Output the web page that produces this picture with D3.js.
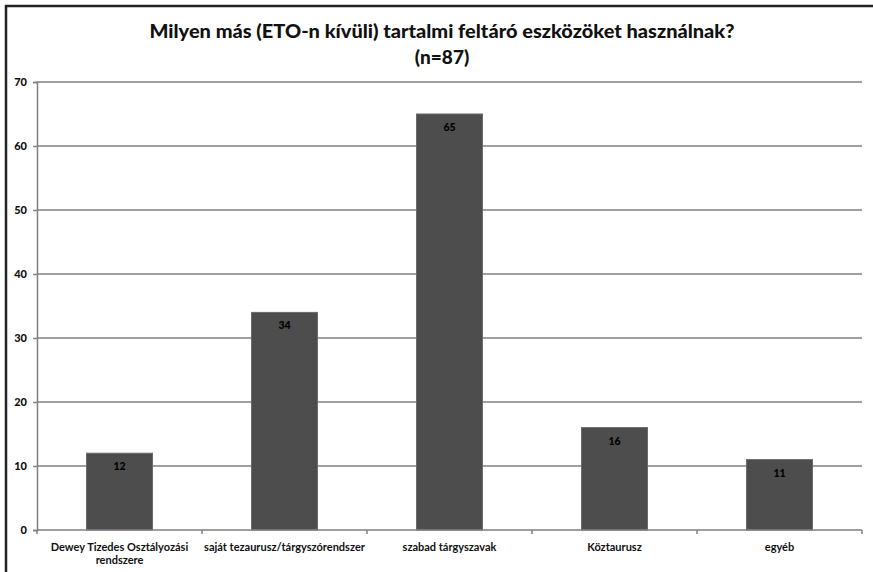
<!DOCTYPE html>
<html>
<head>
<meta charset="utf-8">
<script src="https://cdn.jsdelivr.net/npm/d3@7"></script>
<style>
  body { margin: 0; background: #fff; }
  text { font-family: Lato, "Open Sans", sans-serif; }
</style>
</head>
<body>
<div class="chart"></div>
<script>
// chart data
var categories = ["Dewey Tizedes Osztályozási rendszere", "saját tezaurusz/tárgyszórendszer", "szabad tárgyszavak", "Köztaurusz", "egyéb"];
var values = [12, 34, 65, 16, 11];
var yTicks = [0, 10, 20, 30, 40, 50, 60, 70];
var titleLines = ["Milyen más (ETO-n kívüli) tartalmi feltáró eszközöket használnak?", "(n=87)"];

var svgWidth = 873, svgHeight = 572;
var margin = { top: 82, right: 11, bottom: 42, left: 37 };
var width = svgWidth - margin.left - margin.right;
var height = svgHeight - margin.top - margin.bottom;

var svg = d3.select(".chart").append("svg")
  .attr("width", svgWidth)
  .attr("height", svgHeight);

// outer frame (only top and left edges visible)
svg.append("path")
  .attr("d", "M6," + svgHeight + "V6H" + svgWidth)
  .attr("fill", "none")
  .attr("stroke", "#222")
  .attr("stroke-width", 2.5);

// title
svg.selectAll(".title")
  .data(titleLines)
  .enter()
  .append("text")
  .attr("class", "title")
  .attr("x", 442)
  .attr("y", (d, i) => 38 + i * 26)
  .attr("text-anchor", "middle")
  .attr("font-size", "19px")
  .attr("font-weight", "900")
  .attr("fill", "#111")
  .attr("textLength", (d, i) => i === 0 ? 585 : null)
  .attr("lengthAdjust", "spacingAndGlyphs")
  .text(d => d);

var chartGroup = svg.append("g")
  .attr("transform", `translate(${margin.left}, ${margin.top})`);

var x = d3.scaleBand()
  .domain(categories)
  .range([0, width])
  .paddingInner(0.6)
  .paddingOuter(0.3);

var xBoundary = d3.scaleLinear().domain([0, categories.length]).range([0, width]);

var y = d3.scaleLinear()
  .domain([0, 70])
  .range([height, 0]);

// gridlines
chartGroup.selectAll(".grid")
  .data(yTicks.slice(1))
  .enter()
  .append("line")
  .attr("class", "grid")
  .attr("x1", 0)
  .attr("x2", width)
  .attr("y1", d => y(d))
  .attr("y2", d => y(d))
  .attr("stroke", "#7f7f7f")
  .attr("stroke-width", 1.5);

// y axis
var yAxis = d3.axisLeft(y).tickValues(yTicks).tickSize(4).tickPadding(6);
var yAxisG = chartGroup.append("g").call(yAxis);
yAxisG.select(".domain").attr("stroke", "#7f7f7f").attr("stroke-width", 1.5);
yAxisG.selectAll(".tick line").attr("stroke", "#7f7f7f").attr("stroke-width", 1.5);
yAxisG.selectAll(".tick text")
  .attr("font-size", "11px")
  .attr("font-weight", "900")
  .attr("fill", "#111")
  .style("font-family", "Lato, sans-serif");

// bars
chartGroup.selectAll(".bar")
  .data(values)
  .enter()
  .append("rect")
  .attr("class", "bar")
  .attr("x", (d, i) => x(categories[i]))
  .attr("y", d => y(d))
  .attr("width", x.bandwidth())
  .attr("height", d => height - y(d))
  .attr("fill", "#4d4d4d")
  .attr("stroke", "#6a6a6a")
  .attr("stroke-width", 1);

// x axis line and ticks
chartGroup.append("line")
  .attr("x1", 0)
  .attr("x2", width)
  .attr("y1", height)
  .attr("y2", height)
  .attr("stroke", "#7f7f7f")
  .attr("stroke-width", 1.5);

chartGroup.selectAll(".xtick")
  .data(d3.range(categories.length + 1))
  .enter()
  .append("line")
  .attr("class", "xtick")
  .attr("x1", d => xBoundary(d))
  .attr("x2", d => xBoundary(d))
  .attr("y1", height)
  .attr("y2", height + 4)
  .attr("stroke", "#7f7f7f")
  .attr("stroke-width", 1.5);

// value labels inside bars
chartGroup.selectAll(".value")
  .data(values)
  .enter()
  .append("text")
  .attr("class", "value")
  .attr("x", (d, i) => x(categories[i]) + x.bandwidth() / 2)
  .attr("y", d => y(d) + 17)
  .attr("text-anchor", "middle")
  .attr("font-size", "10.5px")
  .attr("font-weight", "900")
  .attr("fill", "#000")
  .text(d => d);

// category labels (wrapped like the original)
var wrapped = [["Dewey Tizedes Osztályozási", "rendszere"], ["saját tezaurusz/tárgyszórendszer"], ["szabad tárgyszavak"], ["Köztaurusz"], ["egyéb"]];
categories.forEach(function (c, i) {
  var t = chartGroup.append("text")
    .attr("x", x(c) + x.bandwidth() / 2)
    .attr("y", height + 21)
    .attr("text-anchor", "middle")
    .attr("font-size", "11px")
    .attr("font-weight", "bold")
    .attr("fill", "#111");
  wrapped[i].forEach(function (line, j) {
    t.append("tspan")
      .attr("x", x(c) + x.bandwidth() / 2)
      .attr("dy", j === 0 ? 0 : 12.5)
      .text(line);
  });
});
</script>
</body>
</html>
